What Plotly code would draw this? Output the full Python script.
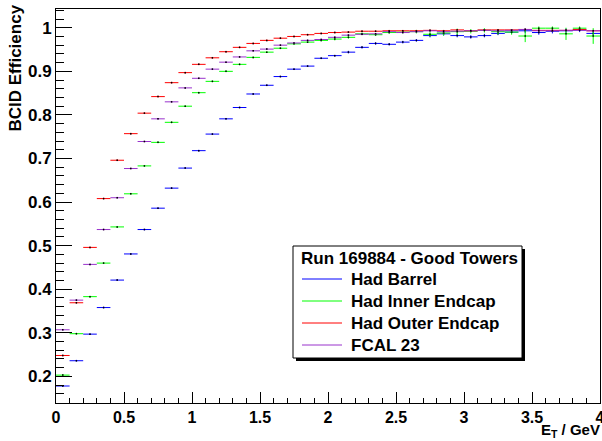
import plotly.graph_objects as go

# ---------------- data ----------------
bin_width = 0.1
bin_centers = [round(0.05 + 0.1 * i, 2) for i in range(40)]

had_barrel = [0.178, 0.236, 0.297, 0.358, 0.421, 0.481, 0.537, 0.586, 0.632, 0.678,
              0.718, 0.756, 0.791, 0.817, 0.848, 0.868, 0.888, 0.905, 0.912, 0.930,
              0.936, 0.944, 0.955, 0.964, 0.962, 0.967, 0.971, 0.982, 0.986, 0.982,
              0.979, 0.982, 0.987, 0.990, 0.993, 0.989, 0.992, 0.993, 0.995, 0.987]
had_barrel_err = [0.002] * 21 + [0.003] * 6 + [0.004] * 7 + [0.005] * 6

had_inner = [0.203, 0.298, 0.383, 0.460, 0.543, 0.619, 0.683, 0.737, 0.783, 0.820,
             0.851, 0.877, 0.900, 0.916, 0.932, 0.944, 0.953, 0.963, 0.967, 0.971,
             0.974, 0.978, 0.986, 0.984, 0.989, 0.990, 0.991, 0.985, 0.988, 0.991,
             0.992, 0.994, 0.991, 0.990, 0.981, 0.999, 0.999, 0.986, 0.999, 0.981]
had_inner_err = ([0.002] * 20 + [0.003] * 6 +
                 [0.004, 0.005, 0.006, 0.007, 0.005, 0.005, 0.006, 0.006,
                  0.014, 0.004, 0.004, 0.014, 0.004, 0.018])

had_outer = [0.248, 0.369, 0.496, 0.608, 0.696, 0.757, 0.804, 0.842, 0.874, 0.897,
             0.916, 0.931, 0.945, 0.955, 0.964, 0.971, 0.976, 0.980, 0.984, 0.987,
             0.989, 0.990, 0.992, 0.992, 0.993, 0.993, 0.993, 0.994, 0.993, 0.995,
             0.993, 0.995, 0.995, 0.995, 0.996, 0.994, 0.994, 0.994, 0.996, 0.993]
had_outer_err = [0.002] * 40

fcal23 = [0.307, 0.375, 0.457, 0.537, 0.610, 0.677, 0.739, 0.791, 0.830, 0.862,
          0.884, 0.905, 0.921, 0.933, 0.947, 0.951, 0.960, 0.965, 0.971, 0.973,
          0.978, 0.983, 0.985, 0.986, 0.991, 0.989, 0.991, 0.993, 0.991, 0.992,
          0.993, 0.994, 0.993, 0.994, 0.996, 0.993, 0.993, 0.994, 0.994, 0.993]
fcal23_err = [0.002] * 40

series_names = ["Had Barrel", "Had Inner Endcap", "Had Outer Endcap", "FCAL 23"]
series_values = [had_barrel, had_inner, had_outer, fcal23]
series_errors = [had_barrel_err, had_inner_err, had_outer_err, fcal23_err]
series_colors = ["#0000ff", "#00ff00", "#ff0000", "#9932cc"]

legend_title = "Run 169884 - Good Towers"
x_ticks = [0, 0.5, 1, 1.5, 2, 2.5, 3, 3.5, 4]

# ---------------- figure ----------------
W, H = 602, 441
ML, MR, MT, MB = 56, 2, 9, 38
PW, PH = W - ML - MR, H - MT - MB

def px_x(p):
    return (p - ML) / PW

def px_y(p):
    return (H - MB - p) / PH

FONT = "Liberation Sans, Arial, Helvetica, sans-serif"
FS = 17

fig = go.Figure()
for name, vals, errs, col in zip(series_names, series_values, series_errors, series_colors):
    fig.add_trace(go.Scatter(
        x=bin_centers, y=vals, mode="markers", name=name, showlegend=False,
        marker=dict(size=1.5, color="black", symbol="square", line=dict(width=0)),
        error_x=dict(type="constant", value=bin_width / 2, width=0, thickness=1, color=col),
        error_y=dict(type="data", array=errs, width=0, thickness=1, color=col),
    ))

# legend box (ROOT style with shadow)
bx0, bx1, by0, by1 = 293, 522, 246, 358
fig.add_shape(type="rect", xref="paper", yref="paper",
              x0=px_x(bx0 + 3), x1=px_x(bx1 + 3), y0=px_y(by1 + 3), y1=px_y(by0 + 3),
              fillcolor="black", line=dict(width=0), layer="above")
fig.add_shape(type="rect", xref="paper", yref="paper",
              x0=px_x(bx0), x1=px_x(bx1), y0=px_y(by1), y1=px_y(by0),
              fillcolor="white", line=dict(color="black", width=1), layer="above")
fig.add_annotation(xref="paper", yref="paper", x=px_x(299), y=px_y(258),
                   xanchor="left", yanchor="middle", showarrow=False,
                   text=legend_title,
                   font=dict(family=FONT, size=FS, color="black", weight="bold"))
entry_y = [279, 301, 323, 345]
for name, col, ey in zip(series_names, series_colors, entry_y):
    fig.add_shape(type="line", xref="paper", yref="paper",
                  x0=px_x(302), x1=px_x(342), y0=px_y(ey), y1=px_y(ey),
                  line=dict(color=col, width=1), layer="above")
    fig.add_annotation(xref="paper", yref="paper", x=px_x(349), y=px_y(ey),
                       xanchor="left", yanchor="middle", showarrow=False,
                       text=name,
                       font=dict(family=FONT, size=FS, color="black", weight="bold"))

# axis titles
fig.add_annotation(xref="paper", yref="paper", x=px_x(15), y=px_y(3),
                   xanchor="center", yanchor="top", textangle=-90, showarrow=False,
                   text="BCID Efficiency",
                   font=dict(family=FONT, size=FS, color="black", weight="bold"))
fig.add_annotation(xref="paper", yref="paper", x=px_x(601), y=px_y(441),
                   xanchor="right", yanchor="bottom", showarrow=False, borderpad=0,
                   text="E<sub>T</sub> / GeV",
                   font=dict(family=FONT, size=15, color="black", weight="bold"))

fig.update_layout(
    width=W, height=H,
    margin=dict(l=ML, r=MR, t=MT, b=MB, pad=0, autoexpand=False),
    paper_bgcolor="white", plot_bgcolor="white",
    font=dict(family=FONT, size=FS, color="black"),
    showlegend=False,
)
fig.update_xaxes(
    range=[0, 4], tickmode="array", tickvals=x_ticks,
    ticks="inside", ticklen=11, tickwidth=1, tickcolor="black",
    minor=dict(dtick=0.1, tick0=0, ticks="inside", ticklen=5, tickwidth=1, tickcolor="black"),
    showline=True, mirror=True, linecolor="black", linewidth=1,
    showgrid=False, zeroline=False, automargin=False, ticklabeloverflow="allow",
    tickfont=dict(family=FONT, size=16, color="black", weight="bold"),
)
fig.update_yaxes(
    range=[0.139, 1.043], dtick=0.1, tick0=0,
    ticks="inside", ticklen=16, tickwidth=1, tickcolor="black",
    minor=dict(dtick=0.02, tick0=0, ticks="inside", ticklen=8, tickwidth=1, tickcolor="black"),
    showline=True, mirror=True, linecolor="black", linewidth=1,
    showgrid=False, zeroline=False, automargin=False, ticklabeloverflow="allow",
    tickfont=dict(family=FONT, size=FS, color="black", weight="bold"),
)

fig.write_html(
    "out.html",
    config={"displayModeBar": False},
    post_script="document.body.style.margin='0';document.body.style.padding='0';"
                "document.documentElement.style.overflow='hidden';",
)
